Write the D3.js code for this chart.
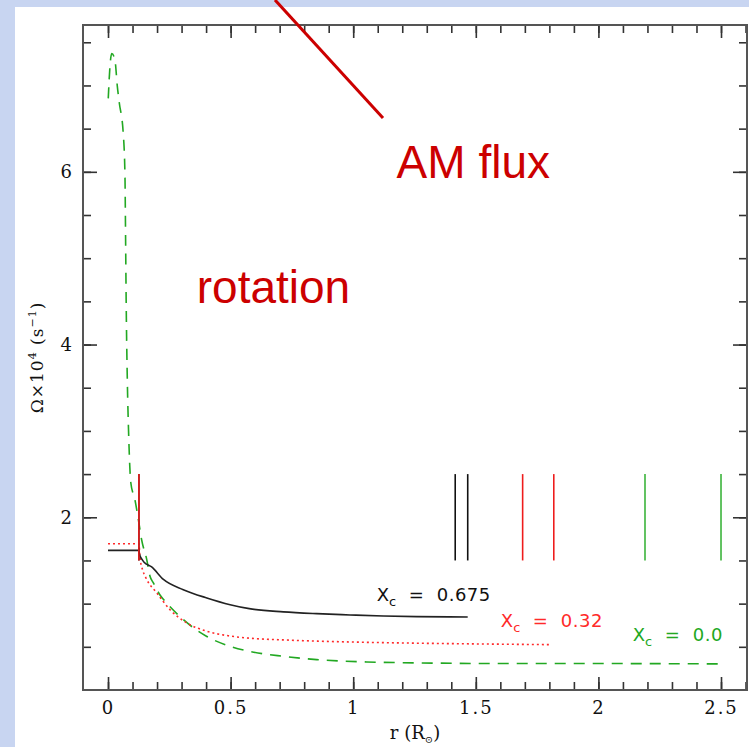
<!DOCTYPE html>
<html>
<head>
<meta charset="utf-8">
<script src="https://cdn.jsdelivr.net/npm/d3@7"></script>
<style>
  body { margin: 0; }
  svg { display: block; }
</style>
</head>
<body>
<div id="chart"></div>
<script>
// model curves, Omega x 10^4 (s^-1) against r (R_sun)
const blackR = [0, 0.126, 0.127, 0.147, 0.178, 0.226, 0.307, 0.403, 0.498, 0.576, 0.715, 0.851, 0.987, 1.123, 1.259, 1.467];
const blackW = [1.617, 1.617, 1.58, 1.48, 1.425, 1.28, 1.162, 1.066, 0.988, 0.942, 0.905, 0.884, 0.869, 0.856, 0.85, 0.846];

const redR = [0, 0.126, 0.13, 0.141, 0.151, 0.158, 0.199, 0.253, 0.321, 0.403, 0.498, 0.576, 0.715, 0.851, 0.987, 1.19, 1.395, 1.81];
const redW = [1.694, 1.694, 1.55, 1.39, 1.32, 1.278, 1.124, 0.93, 0.777, 0.68, 0.625, 0.60, 0.580, 0.566, 0.556, 0.545, 0.537, 0.525];

const greenR = [0.001, 0.008, 0.015, 0.028, 0.038, 0.046, 0.062, 0.069, 0.072, 0.074, 0.079, 0.084, 0.093, 0.110, 0.124, 0.137, 0.158, 0.171, 0.185, 0.212, 0.239, 0.307, 0.403, 0.498, 0.576, 0.715, 0.851, 1.055, 1.259, 1.667, 2.075, 2.507];
const greenW = [6.85, 7.22, 7.37, 7.30, 6.99, 6.80, 6.45, 5.98, 5.14, 4.52, 3.55, 2.98, 2.40, 2.20, 1.97, 1.74, 1.51, 1.32, 1.24, 1.10, 1.008, 0.815, 0.62, 0.506, 0.448, 0.39, 0.352, 0.325, 0.314, 0.306, 0.306, 0.302];

// vertical markers (r) for each model, drawn from 1.5 to 2.5
const blackMarks = [0.126, 1.416, 1.467];
const redMarks = [0.126, 1.691, 1.818];
const greenMarks = [2.19, 2.50];
const markSpan = [1.5, 2.5];

const labels = ["0.675", "0.32", "0.0"];
const labelR = [1.096, 1.602, 2.140];
const labelW = [1.027, 0.726, 0.572];

const xTicks = [0, 0.5, 1, 1.5, 2, 2.5];
const yTicks = [2, 4, 6];

// annotation arrow (data units) and slide texts
const arrowR = [0.681, 1.1215];
const arrowW = [7.99, 6.623];
const notes = ["AM flux", "rotation"];
const noteR = [1.177, 0.362];
const noteW = [5.929, 4.485];

const width = 749, height = 747;
const margin = {left: 83, right: 2, top: 25, bottom: 57};

const svg = d3.select("#chart")
  .append("svg")
    .attr("width", width)
    .attr("height", height);

// fondo de la diapositiva
svg.append("rect").attr("width", width).attr("height", height).attr("fill", "#c8d5f1");
svg.append("rect").attr("x", 15).attr("y", 7).attr("width", width - 15).attr("height", height - 7).attr("fill", "#ffffff");

const x = d3.scaleLinear().domain([-0.102, 2.606]).range([margin.left, width - margin.right]);
const y = d3.scaleLinear().domain([0, 7.7]).range([height - margin.bottom, margin.top]);

const x0 = x.range()[0], x1 = x.range()[1];
const y0 = y.range()[0], y1 = y.range()[1];

const tickFont = "'DejaVu Serif', serif";

function styleAxis(g) {
  g.select(".domain").remove();
  g.selectAll(".tick line").attr("stroke", "#333").attr("stroke-width", 1.6);
}

// minor ticks
const xMinor = d3.range(0, 2.61, 0.1);
const yMinor = d3.range(0.5, 7.6, 0.5);

svg.append("g").attr("transform", `translate(0,${y0})`)
  .call(d3.axisBottom(x).tickValues(xMinor).tickSize(-8).tickFormat("")).call(styleAxis);
svg.append("g").attr("transform", `translate(0,${y1})`)
  .call(d3.axisTop(x).tickValues(xMinor).tickSize(-8).tickFormat("")).call(styleAxis);
svg.append("g").attr("transform", `translate(${x0},0)`)
  .call(d3.axisLeft(y).tickValues(yMinor).tickSize(-8).tickFormat("")).call(styleAxis);
svg.append("g").attr("transform", `translate(${x1},0)`)
  .call(d3.axisRight(y).tickValues(yMinor).tickSize(-8).tickFormat("")).call(styleAxis);

// major ticks
const xAxis = svg.append("g").attr("transform", `translate(0,${y0})`)
  .call(d3.axisBottom(x).tickValues(xTicks).tickSize(-13).tickPadding(11).tickFormat(d3.format("")))
  .call(styleAxis);
svg.append("g").attr("transform", `translate(0,${y1})`)
  .call(d3.axisTop(x).tickValues(xTicks).tickSize(-13).tickFormat("")).call(styleAxis);
const yAxis = svg.append("g").attr("transform", `translate(${x0},0)`)
  .call(d3.axisLeft(y).tickValues(yTicks).tickSize(-14).tickPadding(11).tickFormat(d3.format("")))
  .call(styleAxis);
svg.append("g").attr("transform", `translate(${x1},0)`)
  .call(d3.axisRight(y).tickValues(yTicks).tickSize(-14).tickFormat("")).call(styleAxis);

[xAxis, yAxis].forEach(g => g.selectAll("text")
  .attr("font-family", tickFont)
  .attr("font-size", 18)
  .attr("fill", "#111"));
xAxis.selectAll("text").attr("letter-spacing", "2px");

// marco
svg.append("rect")
  .attr("x", x0).attr("y", y1)
  .attr("width", x1 - x0).attr("height", y0 - y1)
  .attr("fill", "none")
  .attr("stroke", "#555")
  .attr("stroke-width", 2);

// titulos de ejes
const xTitle = svg.append("text")
  .attr("x", (x0 + x1) / 2)
  .attr("y", 739)
  .attr("text-anchor", "middle")
  .attr("font-family", tickFont)
  .attr("font-size", 18)
  .attr("fill", "#111");
xTitle.append("tspan").text("r (R");
xTitle.append("tspan").attr("font-size", 10).attr("dy", 4).text("⊙");
xTitle.append("tspan").attr("dy", -4).text(")");

const yTitle = svg.append("text")
  .attr("transform", `translate(43,${(y0 + y1) / 2}) rotate(-90)`)
  .attr("text-anchor", "middle")
  .attr("font-family", tickFont)
  .attr("font-size", 17)
  .attr("letter-spacing", "1px")
  .attr("fill", "#111");
yTitle.append("tspan").text("Ω×10");
yTitle.append("tspan").attr("font-size", 11).attr("dy", -7).text("4");
yTitle.append("tspan").attr("dy", 7).text(" (s");
yTitle.append("tspan").attr("font-size", 11).attr("dy", -7).text("−1");
yTitle.append("tspan").attr("dy", 7).text(")");

const line = d3.line()
  .curve(d3.curveMonotoneX)
  .x(d => x(d[0]))
  .y(d => y(d[1]));

const series = [
  {r: greenR, w: greenW, color: "#22a822", dash: "11,8"},
  {r: redR, w: redW, color: "#ff2a2a", dash: "2,3"},
  {r: blackR, w: blackW, color: "#222222", dash: null}
];

series.forEach(s => {
  svg.append("path")
    .datum(d3.zip(s.r, s.w))
    .attr("d", line)
    .attr("fill", "none")
    .attr("stroke", s.color)
    .attr("stroke-width", 1.6)
    .attr("stroke-dasharray", s.dash);
});

// marcas verticales
[[blackMarks, "#111111"], [redMarks, "#ee1c1c"], [greenMarks, "#3cb43c"]].forEach(([marks, color]) => {
  svg.append("g")
    .selectAll("line")
    .data(marks)
    .join("line")
      .attr("x1", d => x(d)).attr("x2", d => x(d))
      .attr("y1", y(markSpan[0])).attr("y2", y(markSpan[1]))
      .attr("stroke", color)
      .attr("stroke-width", 1.6);
});

// etiquetas X_c
const labelColors = ["#111111", "#ff2a2a", "#22a822"];
labels.forEach((lab, i) => {
  const t = svg.append("text")
    .attr("x", x(labelR[i]))
    .attr("y", y(labelW[i]))
    .attr("font-family", "'DejaVu Sans', sans-serif")
    .attr("font-size", 18)
    .attr("fill", labelColors[i])
    .style("white-space", "pre");
  t.append("tspan").text("X");
  t.append("tspan").attr("font-size", 13).attr("dy", 5).text("c");
  t.append("tspan").attr("dy", -5).attr("letter-spacing", "0.5px").text("  =  " + lab);
});

// anotaciones de la diapositiva
svg.append("line")
  .attr("x1", x(arrowR[0])).attr("y1", y(arrowW[0]))
  .attr("x2", x(arrowR[1])).attr("y2", y(arrowW[1]))
  .attr("stroke", "#cc0000")
  .attr("stroke-width", 3);

notes.forEach((n, i) => {
  svg.append("text")
    .attr("x", x(noteR[i]))
    .attr("y", y(noteW[i]))
    .attr("font-family", "'Liberation Sans', Arial, sans-serif")
    .attr("font-size", 46)
    .attr("fill", "#cc0000")
    .text(n);
});
</script>
</body>
</html>
